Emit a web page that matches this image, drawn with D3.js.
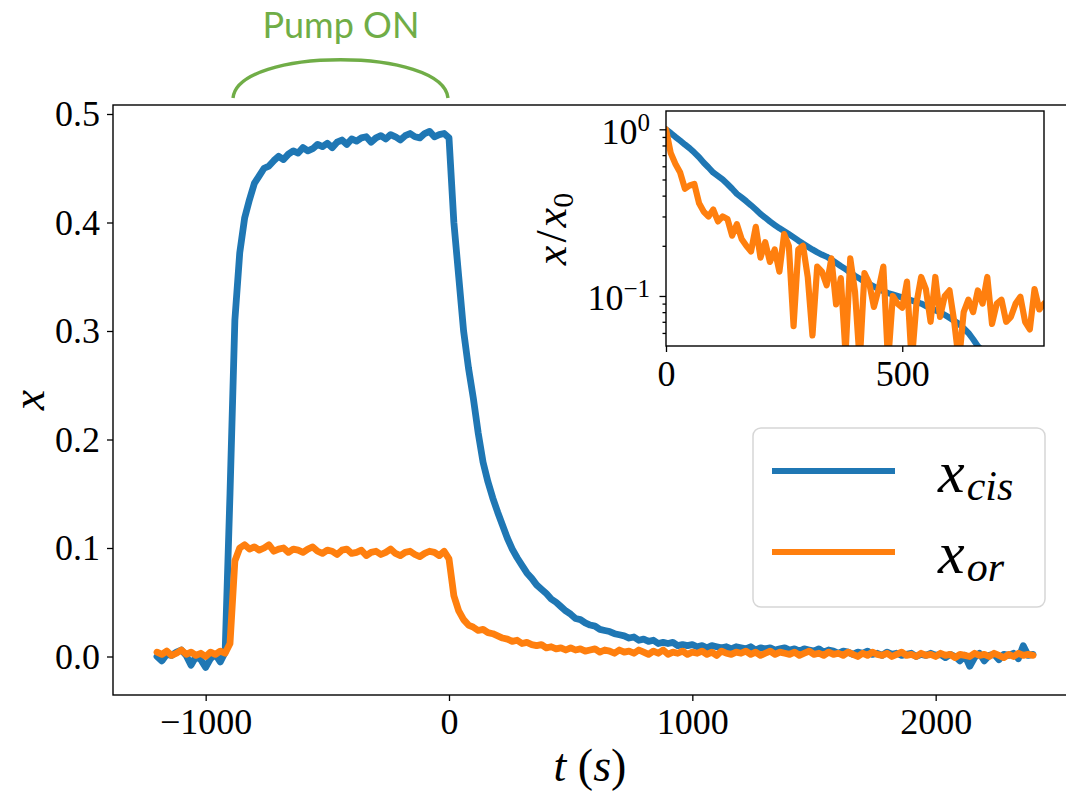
<!DOCTYPE html>
<html>
<head>
<meta charset="utf-8">
<script src="https://cdn.jsdelivr.net/npm/d3@7"></script>
<style>
  body { margin: 0; background: #fff; }
  svg { display: block; }
</style>
</head>
<body>
<svg id="chart" width="1066" height="796"></svg>
<script>
// main series, sampled every 20 s starting at -1200 s (one row = 200 s)
const mainStart = -1200, mainStep = 20;
const xCis = [
  0.000, -0.004, 0.002, 0.001, 0.004, 0.006, 0.001, -0.008, 0.000, -0.003,   // -1200
  -0.010, -0.002, 0.002, -0.005, 0.004, 0.150, 0.310, 0.372, 0.404, 0.421,  // -1000
  0.436, 0.443, 0.450, 0.452, 0.457, 0.461, 0.458, 0.463, 0.466, 0.464,      // -800
  0.469, 0.466, 0.468, 0.472, 0.470, 0.473, 0.469, 0.474, 0.476, 0.472,      // -600
  0.477, 0.475, 0.478, 0.479, 0.474, 0.478, 0.480, 0.477, 0.481, 0.479,      // -400
  0.476, 0.480, 0.482, 0.479, 0.478, 0.482, 0.484, 0.479, 0.481, 0.482,      // -200
  0.478, 0.400, 0.350, 0.300, 0.266, 0.238, 0.206, 0.179, 0.161, 0.146,      // 0
  0.133, 0.121, 0.109, 0.099, 0.091, 0.084, 0.077, 0.072, 0.066, 0.062,      // 200
  0.058, 0.053, 0.050, 0.046, 0.042, 0.039, 0.035, 0.034, 0.031, 0.029,      // 400
  0.028, 0.025, 0.024, 0.023, 0.021, 0.020, 0.019, 0.017, 0.018, 0.015,      // 600
  0.016, 0.014, 0.015, 0.012, 0.013, 0.012, 0.013, 0.010, 0.011, 0.010,      // 800
  0.011, 0.009, 0.010, 0.008, 0.010, 0.009, 0.008, 0.009, 0.007, 0.009,      // 1000
  0.008, 0.007, 0.009, 0.006, 0.008, 0.007, 0.008, 0.006, 0.007, 0.008,      // 1200
  0.006, 0.007, 0.005, 0.007, 0.006, 0.005, 0.007, 0.004, 0.006, 0.005,      // 1400
  0.003, 0.005, 0.004, 0.002, 0.004, 0.003, 0.005, 0.002, 0.003, 0.001,      // 1600
  0.004, 0.002, 0.003, 0.001, 0.002, 0.003, 0.000, 0.002, 0.001, 0.003,      // 1800
  0.001, 0.002, -0.001, 0.002, 0.000, -0.004, 0.001, -0.009, -0.001, 0.003,  // 2000
  -0.004, 0.001, 0.002, -0.003, 0.002, 0.001, 0.003, -0.002, 0.010, 0.001,   // 2200
  0.002                                                                       // 2400
];
const xOr = [
  0.004, 0.002, 0.005, 0.001, 0.003, 0.006, 0.002, 0.004, 0.001, 0.003,      // -1200
  0.000, 0.004, 0.002, 0.005, 0.003, 0.012, 0.088, 0.100, 0.103, 0.099,      // -1000
  0.101, 0.098, 0.100, 0.103, 0.097, 0.099, 0.100, 0.096, 0.099, 0.098,      // -800
  0.096, 0.099, 0.101, 0.097, 0.095, 0.098, 0.097, 0.094, 0.098, 0.099,      // -600
  0.095, 0.096, 0.098, 0.093, 0.096, 0.097, 0.094, 0.096, 0.099, 0.095,      // -400
  0.093, 0.096, 0.097, 0.094, 0.092, 0.095, 0.097, 0.096, 0.093, 0.097,      // -200
  0.090, 0.056, 0.042, 0.034, 0.029, 0.027, 0.024, 0.025, 0.022, 0.021,      // 0
  0.019, 0.017, 0.016, 0.014, 0.015, 0.012, 0.013, 0.011, 0.010, 0.011,      // 200
  0.008, 0.009, 0.007, 0.008, 0.006, 0.008, 0.006, 0.007, 0.005, 0.006,      // 400
  0.007, 0.004, 0.006, 0.005, 0.003, 0.006, 0.004, 0.005, 0.003, 0.006,      // 600
  0.004, 0.002, 0.005, 0.003, 0.006, 0.002, 0.004, 0.003, 0.005, 0.002,      // 800
  0.004, 0.003, 0.005, 0.002, 0.004, 0.001, 0.005, 0.003, 0.002, 0.004,      // 1000
  0.003, 0.005, 0.002, 0.004, 0.001, 0.003, 0.005, 0.002, 0.004, 0.003,      // 1200
  0.002, 0.004, 0.001, 0.003, 0.005, 0.002, 0.003, 0.001, 0.004, 0.002,      // 1400
  0.003, 0.001, 0.004, 0.002, 0.000, 0.003, 0.001, 0.004, 0.002, 0.001,      // 1600
  0.003, 0.000, 0.002, 0.004, 0.001, 0.002, 0.000, 0.003, 0.001, 0.002,      // 1800
  0.000, 0.003, 0.001, 0.002, -0.001, 0.002, 0.001, 0.000, 0.003, 0.001,     // 2000
  0.002, 0.000, 0.003, 0.001, -0.001, 0.002, 0.000, 0.003, 0.001, 0.002,     // 2200
  0.001                                                                       // 2400
];

// inset: normalised decay x/x0, every 10 s from 0 s (one row = 100 s)
const insetStart = 0, insetStep = 10;
const insetCis = [
  1.000, 0.950, 0.900, 0.855, 0.810, 0.770, 0.725, 0.680, 0.630, 0.590,  // 0
  0.550, 0.525, 0.500, 0.470, 0.440, 0.410, 0.390, 0.370, 0.350, 0.330,  // 100
  0.310, 0.295, 0.280, 0.267, 0.255, 0.245, 0.235, 0.225, 0.215, 0.206,  // 200
  0.198, 0.190, 0.183, 0.177, 0.172, 0.165, 0.158, 0.151, 0.145, 0.138,  // 300
  0.132, 0.127, 0.122, 0.118, 0.114, 0.110, 0.107, 0.104, 0.102, 0.100,  // 400
  0.098, 0.096, 0.094, 0.092, 0.090, 0.087, 0.085, 0.082, 0.080, 0.077,  // 500
  0.074, 0.071, 0.068, 0.064, 0.060, 0.055, 0.050, 0.047, 0.045, 0.044,  // 600
  0.043, 0.042, 0.042, 0.041, 0.041, 0.040, 0.040, 0.039, 0.039, 0.038,  // 700
  0.038                                                                   // 800
];
const insetOr = [
  1.000, 0.720, 0.620, 0.550, 0.440, 0.460, 0.470, 0.360, 0.320, 0.300,  // 0
  0.330, 0.280, 0.300, 0.290, 0.230, 0.270, 0.220, 0.200, 0.185, 0.260,  // 100
  0.170, 0.210, 0.160, 0.190, 0.140, 0.235, 0.200, 0.066, 0.190, 0.200,  // 200
  0.130, 0.058, 0.150, 0.140, 0.116, 0.168, 0.089, 0.128, 0.045, 0.168,  // 300
  0.106, 0.040, 0.137, 0.120, 0.086, 0.110, 0.150, 0.040, 0.100, 0.090,  // 400
  0.085, 0.122, 0.040, 0.090, 0.130, 0.110, 0.070, 0.130, 0.075, 0.100,  // 500
  0.108, 0.070, 0.040, 0.080, 0.095, 0.080, 0.108, 0.090, 0.130, 0.068,  // 600
  0.090, 0.095, 0.070, 0.075, 0.090, 0.099, 0.070, 0.063, 0.110, 0.083,  // 700
  0.090                                                                   // 800
];

const mainXTicks = [-1000, 0, 1000, 2000];
const mainYTicks = [0.0, 0.1, 0.2, 0.3, 0.4, 0.5];
const insetXTicks = [0, 500];
const insetYTicks = [0.1, 1];
const insetYMinor = [0.06, 0.07, 0.08, 0.09, 0.2, 0.3, 0.4, 0.5, 0.6, 0.7, 0.8, 0.9];
const seriesNames = [["x", "cis"], ["x", "or"]];
const colors = ["#1f77b4", "#ff7f0e"];

const serif = "'Liberation Serif', 'Times New Roman', serif";
const svg = d3.select("#chart");

// ---------- main axes ----------
const box = { left: 113, right: 1068, top: 105, bottom: 695 };
const x = d3.scaleLinear().domain([-1200, 2400]).range([157, 1033]);
const y = d3.scaleLinear().domain([0, 0.5]).range([656.5, 114]);

svg.append("clipPath").attr("id", "mainClip")
  .append("rect")
  .attr("x", box.left).attr("y", box.top)
  .attr("width", box.right - box.left).attr("height", box.bottom - box.top);

const mainData = [xCis, xOr].map(vals => vals.map((v, i) => ({ t: mainStart + i * mainStep, v: v })));
const line = d3.line().x(d => x(d.t)).y(d => y(d.v));

svg.append("g").attr("clip-path", "url(#mainClip)")
  .selectAll("path").data(mainData).join("path")
  .attr("d", line)
  .attr("fill", "none")
  .attr("stroke", (d, i) => colors[i])
  .attr("stroke-width", 6.8)
  .attr("stroke-linejoin", "round")
  .attr("stroke-linecap", "round");

function styleAxis(g) {
  g.select(".domain").remove();
  g.selectAll(".tick line").attr("stroke", "#000").attr("stroke-width", 1.3);
  g.selectAll(".tick text").attr("fill", "#000");
  g.attr("font-family", serif).attr("font-size", 36);
}

svg.append("g")
  .attr("transform", `translate(0,${box.bottom})`)
  .call(d3.axisBottom(x).tickValues(mainXTicks).tickFormat(d3.format("d")).tickSize(6).tickPadding(7))
  .call(styleAxis);

svg.append("g")
  .attr("transform", `translate(${box.left},0)`)
  .call(d3.axisLeft(y).tickValues(mainYTicks).tickFormat(d3.format(".1f")).tickSize(6).tickPadding(7))
  .call(styleAxis);

// spines (right one falls outside the picture)
svg.append("rect")
  .attr("x", box.left).attr("y", box.top)
  .attr("width", box.right - box.left).attr("height", box.bottom - box.top)
  .attr("fill", "none").attr("stroke", "#000").attr("stroke-width", 1.4);

// axis labels
svg.append("text")
  .attr("x", 590).attr("y", 781)
  .attr("text-anchor", "middle")
  .attr("font-family", serif).attr("font-size", 46)
  .call(t => {
    t.append("tspan").attr("font-style", "italic").text("t");
    t.append("tspan").text(" (");
    t.append("tspan").attr("font-style", "italic").text("s");
    t.append("tspan").text(")");
  });

svg.append("text")
  .attr("transform", "translate(44,400) rotate(-90)")
  .attr("text-anchor", "middle")
  .attr("font-family", serif).attr("font-size", 46).attr("font-style", "italic")
  .text("x");

// ---------- legend ----------
const legend = svg.append("g");
legend.append("rect")
  .attr("x", 753).attr("y", 428).attr("width", 292).attr("height", 179)
  .attr("rx", 8)
  .attr("fill", "#fff").attr("fill-opacity", 0.8)
  .attr("stroke", "#d6d6d6").attr("stroke-width", 1.5);

const legendRows = [471, 552];
legend.selectAll("line").data(seriesNames).join("line")
  .attr("x1", 772).attr("x2", 895)
  .attr("y1", (d, i) => legendRows[i]).attr("y2", (d, i) => legendRows[i])
  .attr("stroke", (d, i) => colors[i]).attr("stroke-width", 6);

legend.selectAll("text").data(seriesNames).join("text")
  .attr("x", 938).attr("y", (d, i) => legendRows[i] + 21)
  .attr("font-family", serif).attr("font-style", "italic")
  .each(function(d) {
    const t = d3.select(this);
    t.append("tspan").attr("font-size", 60).text(d[0]);
    t.append("tspan").attr("font-size", 42).attr("dy", 8).attr("dx", 2).text(d[1]);
  });

// ---------- inset ----------
const ibox = { left: 666, right: 1044, top: 111, bottom: 346 };
const ix = d3.scaleLinear().domain([0, 800]).range([ibox.left, ibox.right]);
const iy = d3.scaleLog().domain([0.0501, 1.288]).range([ibox.bottom, ibox.top]);

svg.append("rect")
  .attr("x", ibox.left).attr("y", ibox.top)
  .attr("width", ibox.right - ibox.left).attr("height", ibox.bottom - ibox.top)
  .attr("fill", "#fff");

svg.append("clipPath").attr("id", "insetClip")
  .append("rect")
  .attr("x", ibox.left).attr("y", ibox.top)
  .attr("width", ibox.right - ibox.left).attr("height", ibox.bottom - ibox.top);

const insetData = [insetCis, insetOr].map(vals => vals.map((v, i) => ({ t: insetStart + i * insetStep, v: v })));
const iline = d3.line().x(d => ix(d.t)).y(d => iy(d.v));

svg.append("g").attr("clip-path", "url(#insetClip)")
  .selectAll("path").data(insetData).join("path")
  .attr("d", iline)
  .attr("fill", "none")
  .attr("stroke", (d, i) => colors[i])
  .attr("stroke-width", 6.2)
  .attr("stroke-linejoin", "round")
  .attr("stroke-linecap", "round");

svg.append("g")
  .attr("transform", `translate(0,${ibox.bottom})`)
  .call(d3.axisBottom(ix).tickValues(insetXTicks).tickFormat(d3.format("d")).tickSize(6).tickPadding(8))
  .call(styleAxis);

svg.append("g")
  .attr("transform", `translate(${ibox.left},0)`)
  .call(d3.axisLeft(iy).tickValues(insetYMinor).tickFormat("").tickSize(3.5))
  .call(styleAxis);

const iyAxis = svg.append("g")
  .attr("transform", `translate(${ibox.left},0)`)
  .call(d3.axisLeft(iy).tickValues(insetYTicks).tickFormat("").tickSize(6.5))
  .call(styleAxis);

iyAxis.selectAll(".tick").append("text")
  .attr("x", -16).attr("y", 14)
  .attr("text-anchor", "end")
  .attr("fill", "#000")
  .each(function(d) {
    const t = d3.select(this);
    const p = Math.round(Math.log10(d));
    t.append("tspan").attr("font-size", 36).text("10");
    t.append("tspan").attr("font-size", 25).attr("dy", -13)
      .text(p < 0 ? "\u2212" + (-p) : String(p));
  });

svg.append("rect")
  .attr("x", ibox.left).attr("y", ibox.top)
  .attr("width", ibox.right - ibox.left).attr("height", ibox.bottom - ibox.top)
  .attr("fill", "none").attr("stroke", "#000").attr("stroke-width", 1.4);

svg.append("text")
  .attr("transform", "translate(566,229) rotate(-90)")
  .attr("text-anchor", "middle")
  .attr("font-family", serif).attr("font-style", "italic")
  .call(t => {
    t.append("tspan").attr("font-size", 44).text("x");
    t.append("tspan").attr("font-size", 44).attr("font-style", "normal").attr("dx", 3).text("/");
    t.append("tspan").attr("font-size", 44).attr("dx", 3).text("x");
    t.append("tspan").attr("font-size", 30).attr("font-style", "normal").attr("dy", 7).text("0");
  });

// ---------- pump annotation ----------
const green = "#70ad47";
svg.append("path")
  .attr("d", "M233,98 C238,47 443,47 448,98")
  .attr("fill", "none").attr("stroke", green).attr("stroke-width", 3.4);

svg.append("text")
  .attr("x", 341).attr("y", 38)
  .attr("text-anchor", "middle")
  .attr("font-family", "Lato, 'Open Sans', sans-serif").attr("font-size", 36)
  .attr("fill", green)
  .text("Pump ON");
</script>
</body>
</html>
